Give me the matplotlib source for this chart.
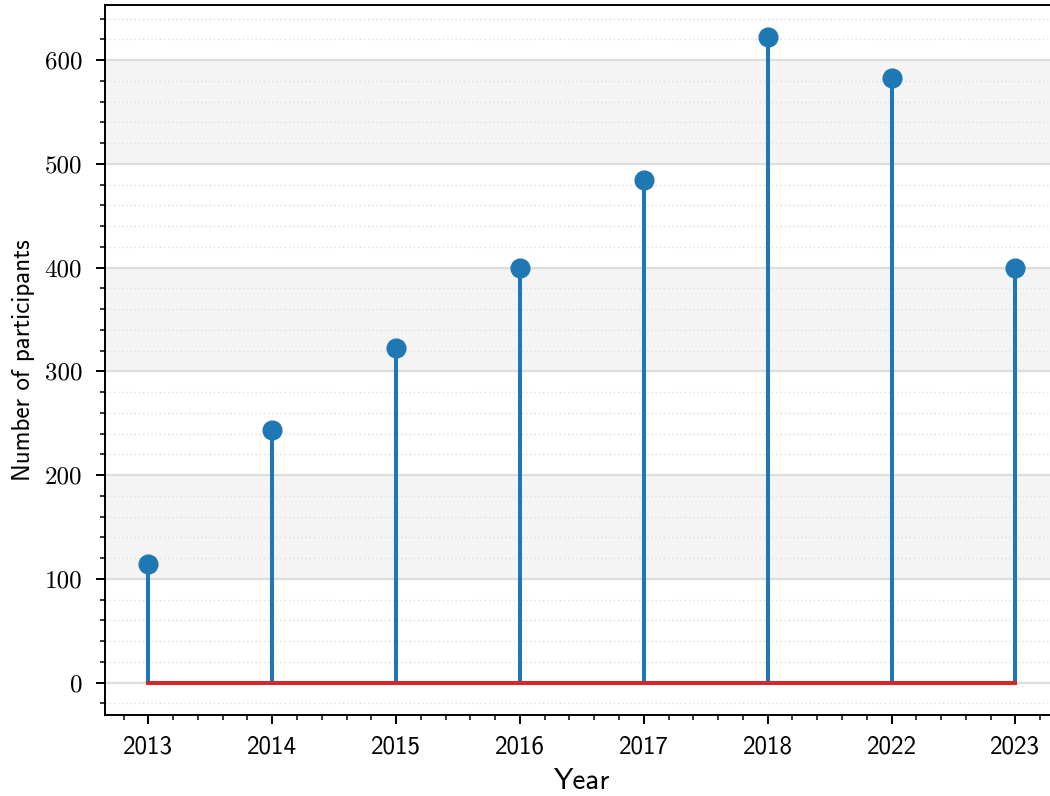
import matplotlib
matplotlib.use("Agg")
import matplotlib.pyplot as plt
from matplotlib.ticker import MultipleLocator

years = ["2013", "2014", "2015", "2016", "2017", "2018", "2022", "2023"]
participants = [114, 244, 323, 400, 484, 622, 583, 400]
band_edges = [(100, 200), (300, 400), (500, 600)]

fig = plt.figure(figsize=(10.5, 7.96), dpi=100)
ax = fig.add_axes([0.1, 0.1018, 0.9083, 0.8919])

x = list(range(len(years)))
markerline, stemlines, baseline = ax.stem(x, participants)
plt.setp(markerline, color="#1f77b4", markersize=13.5, zorder=4)
plt.setp(stemlines, color="#1f77b4", linewidth=2.9, zorder=3)
plt.setp(baseline, color="#d62728", linewidth=2.9, zorder=3)

for lo, hi in band_edges:
    ax.axhspan(lo, hi, color="#f4f4f4", zorder=0, linewidth=0)

ax.set_xlim(-0.35, 7.35)
ax.set_ylim(-31.1, 653.1)

ax.yaxis.set_major_locator(MultipleLocator(100))
ax.yaxis.set_minor_locator(MultipleLocator(20))
ax.set_xticks(x)
ax.set_xticklabels(years)
ax.xaxis.set_minor_locator(MultipleLocator(0.2))

ax.set_axisbelow(True)
ax.grid(axis="y", which="major", color="#dddddd", linewidth=1.6, linestyle="-")
ax.grid(axis="y", which="minor", color="#dddddd", linewidth=1.0, linestyle=(0, (1, 2)))

for s in ["left", "bottom", "top", "right"]:
    ax.spines[s].set_linewidth(1.4)
    ax.spines[s].set_color("black")

ax.tick_params(axis="both", which="major", length=6.5, width=1.4, direction="out")
ax.tick_params(axis="both", which="minor", length=3.6, width=1.1, direction="out")
ax.tick_params(axis="y", which="major", pad=10)
ax.tick_params(axis="x", which="major", pad=8)

for lab in ax.get_yticklabels():
    lab.set_fontfamily("cmr10")
    lab.set_fontsize(18)
for lab in ax.get_xticklabels():
    lab.set_fontfamily("cmss10")
    lab.set_fontsize(18)

ax.set_xlabel("Year", fontfamily="cmss10", fontsize=21, labelpad=7)
ax.set_ylabel("Number of participants", fontfamily="cmss10", fontsize=18, labelpad=7)

fig.savefig("out.png", dpi=100)
